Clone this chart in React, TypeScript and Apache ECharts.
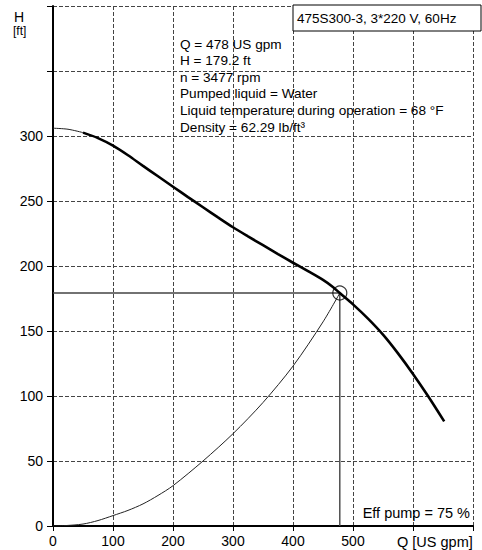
import React, { useEffect, useRef } from "react";
import * as echarts from "echarts";

// Pump head curve (Q in US gpm, H in ft)
const headQ = [0, 25, 50, 75, 100, 125, 150, 175, 200, 225, 250, 275, 300, 325, 350, 375, 400, 425, 450, 467, 478, 500, 525, 550, 575, 600, 625, 652];
const headH = [306, 305.2, 302.6, 298.4, 292.6, 285.2, 277, 269, 261, 253, 245.2, 237.4, 229.8, 222.8, 216, 209.2, 202.5, 196, 189.3, 183.7, 179.2, 170.5, 159.5, 147.2, 132.8, 117, 100, 80.5];
const thinUntilQ = 50;

// Efficiency curve (drawn to the duty point)
const effQ = [0, 20, 50, 75, 100, 125, 150, 175, 200, 250, 300, 350, 400, 450, 478];
const effH = [0, 0.3, 1.5, 4.2, 8, 12, 17, 23.5, 31, 50, 71, 95, 123, 157, 179.2];

// Duty point
const dutyQ = 478;
const dutyH = 179.2;

const xTicks = [0, 100, 200, 300, 400, 500];
const yTicks = [0, 50, 100, 150, 200, 250, 300];

const titleText = "475S300-3, 3*220 V, 60Hz";
const infoLines = [
  "Q = 478 US gpm",
  "H = 179.2 ft",
  "n = 3477 rpm",
  "Pumped liquid = Water",
  "Liquid temperature during operation = 68 °F",
  "Density = 62.29 lb/ft³",
];
const effText = "Eff pump = 75 %";
const xName = "Q [US gpm]";
const yName = "H";
const yUnit = "[ft]";

const FONT = "'Liberation Sans', Arial, sans-serif";

export default function App() {
  const ref = useRef<HTMLDivElement>(null);

  useEffect(() => {
    if (!ref.current) return;
    const chart = echarts.init(ref.current, undefined, { renderer: "svg" });

    const headPts = headQ.map((q, i) => [q, headH[i]]);
    const thinPts = headPts.filter((p) => p[0] <= thinUntilQ);
    const thickPts = headPts.filter((p) => p[0] >= thinUntilQ);
    const effPts = effQ.map((q, i) => [q, effH[i]]);

    chart.setOption({
      animation: false,
      textStyle: { fontFamily: FONT },
      grid: { left: 53, right: 9, top: 6, bottom: 24, containLabel: false, show: false },
      xAxis: {
        type: "value",
        min: 0,
        max: 700,
        interval: 100,
        axisLine: { show: true, onZero: false, lineStyle: { color: "#000", width: 2 } },
        axisTick: { show: true, length: 5, lineStyle: { color: "#000", width: 1 } },
        axisLabel: {
          color: "#000",
          fontSize: 14,
          fontFamily: FONT,
          margin: 8,
          formatter: (v: number) => (xTicks.includes(v) ? String(v) : ""),
        },
        splitLine: { show: true, lineStyle: { type: "dashed", color: "#444", width: 1, dashOffset: 0 } },
      },
      yAxis: {
        type: "value",
        min: 0,
        max: 400,
        interval: 50,
        axisLine: { show: true, onZero: false, lineStyle: { color: "#000", width: 2 } },
        axisTick: { show: true, length: 6, lineStyle: { color: "#000", width: 1 } },
        axisLabel: {
          color: "#000",
          fontSize: 14,
          fontFamily: FONT,
          margin: 10,
          formatter: (v: number) => (yTicks.includes(v) ? String(v) : ""),
        },
        splitLine: { show: true, lineStyle: { type: "dashed", color: "#444", width: 1, dashOffset: 0 } },
      },
      series: [
        {
          type: "line",
          data: [[0, dutyH], [dutyQ, dutyH], [dutyQ, 0]],
          symbol: "none",
          lineStyle: { color: "#444", width: 1.4 },
          z: 2,
        },
        {
          type: "line",
          data: effPts,
          smooth: 0.3,
          symbol: "none",
          lineStyle: { color: "#222", width: 1 },
          z: 3,
        },
        {
          type: "line",
          data: thinPts,
          smooth: 0.3,
          symbol: "none",
          lineStyle: { color: "#222", width: 1 },
          z: 3,
        },
        {
          type: "line",
          data: thickPts,
          smooth: 0.3,
          symbol: "none",
          lineStyle: { color: "#000", width: 2.6 },
          z: 4,
        },
        {
          type: "scatter",
          data: [[dutyQ, dutyH]],
          symbol: "circle",
          symbolSize: 14,
          itemStyle: { color: "rgba(0,0,0,0)", borderColor: "#000", borderWidth: 1.2 },
          z: 5,
        },
      ],
      graphic: [
        {
          type: "text",
          left: 14,
          top: 10,
          style: { text: yName, font: `14px ${FONT}`, fill: "#000" },
        },
        {
          type: "text",
          left: 13,
          top: 25,
          style: { text: yUnit, font: `12px ${FONT}`, fill: "#000" },
        },
        {
          type: "rect",
          shape: { x: 293, y: 5, width: 188, height: 26 },
          style: { fill: "#fff", stroke: "#000", lineWidth: 1 },
          z: 10,
        },
        {
          type: "text",
          x: 297,
          y: 18,
          style: { text: titleText, font: `13.5px ${FONT}`, fill: "#000", textVerticalAlign: "middle" },
          z: 11,
        },
        ...infoLines.map((t, i) => ({
          type: "text",
          x: 180,
          y: 44 + i * 16.6,
          style: { text: t, font: `13.6px ${FONT}`, fill: "#000", textVerticalAlign: "middle" },
          z: 11,
        })),
        {
          type: "text",
          x: 470,
          y: 513,
          style: { text: effText, font: `14.5px ${FONT}`, fill: "#000", textAlign: "right", textVerticalAlign: "middle" },
          z: 11,
        },
        {
          type: "text",
          x: 397,
          y: 542,
          style: { text: xName, font: `14.5px ${FONT}`, fill: "#000", textVerticalAlign: "middle" },
          z: 11,
        },
      ],
    });

    return () => chart.dispose();
  }, []);

  return (
    <div
      ref={ref}
      style={{ position: "absolute", left: 0, top: 0, width: 482, height: 550, background: "#fff" }}
    />
  );
}
